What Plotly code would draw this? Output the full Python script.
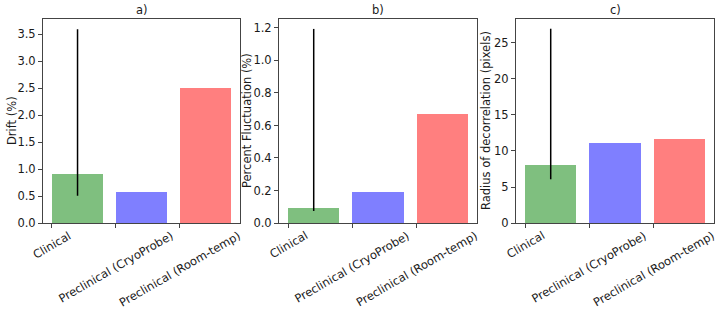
import plotly.graph_objects as go

categories = ["Clinical", "Preclinical (CryoProbe)", "Preclinical (Room-temp)"]
positions = [0, 1, 2]
drift = [0.905, 0.568, 2.5]
fluct = [0.09, 0.193, 0.672]
radius = [8.05, 11.08, 11.6]
# error bar for Clinical (lower, upper ends)
drift_err_lo, drift_err_hi = [0.505], [3.59]
fluct_err_lo, fluct_err_hi = [0.074], [1.194]
radius_err_lo, radius_err_hi = [6.07], [26.98]
titles = ["a)", "b)", "c)"]
ylabels = ["Drift (%)", "Percent Fluctuation (%)", "Radius of decorrelation (pixels)"]
colors = ["rgba(0,128,0,0.5)", "rgba(0,0,255,0.5)", "rgba(255,0,0,0.5)"]

W, H = 719, 311
xdoms = [(43, 240), (279, 477), (516, 714)]
ylabel_x = [12, 247, 486]
ytop, ybot = 19, 223
BW = 0.8
FS = 11.5

# approximate DejaVu Sans advance widths (em) to centre rotated labels
CW = {"C": .698, "l": .278, "i": .278, "n": .634, "c": .550, "a": .613, " ": .318,
      "P": .603, "r": .411, "e": .615, "(": .390, ")": .390, "y": .592, "o": .612,
      "b": .635, "R": .695, "m": .974, "-": .361, "t": .392, "p": .635}


def text_len(s):
    return sum(CW.get(ch, 0.6) for ch in s) * FS


data = [(drift, drift_err_lo, drift_err_hi),
        (fluct, fluct_err_lo, fluct_err_hi),
        (radius, radius_err_lo, radius_err_hi)]
yranges = [[0, 3.78], [0, 1.255], [0, 28.33]]
dticks = [0.5, 0.2, 5]
tickfmt = [".1f", ".1f", "d"]

fig = go.Figure()
font = "DejaVu Sans"
tc = "#1a1a1a"
lc = "#444"
for i, (vals, lo, hi) in enumerate(data):
    xa = "x" if i == 0 else f"x{i+1}"
    ya = "y" if i == 0 else f"y{i+1}"
    centers = [p + BW / 2 for p in positions]
    fig.add_trace(go.Bar(x=centers, y=vals, marker=dict(color=colors, line=dict(width=0)),
                         width=BW, xaxis=xa, yaxis=ya, showlegend=False))
    fig.add_trace(go.Scatter(x=[centers[0]], y=[vals[0]], mode="markers",
                             marker=dict(size=0.1, color="rgba(0,0,0,0)"),
                             error_y=dict(type="data", symmetric=False,
                                          array=[hi[0] - vals[0]], arrayminus=[vals[0] - lo[0]],
                                          color="black", thickness=1.5, width=0),
                             xaxis=xa, yaxis=ya, showlegend=False))
    xkey = "xaxis" if i == 0 else f"xaxis{i+1}"
    ykey = "yaxis" if i == 0 else f"yaxis{i+1}"
    d = xdoms[i]
    fig.layout[xkey] = dict(domain=[d[0] / W, d[1] / W], range=[-0.14, 2.94],
                            tickvals=positions, showticklabels=False,
                            ticks="outside", ticklen=4, tickcolor=lc, showgrid=False,
                            showline=True, linecolor=lc, linewidth=1, mirror=True,
                            zeroline=False, anchor=ya, automargin=False)
    fig.layout[ykey] = dict(domain=[1 - ybot / H, 1 - ytop / H], range=yranges[i],
                            dtick=dticks[i], tick0=0, tickformat=tickfmt[i],
                            ticks="outside", ticklen=4, tickcolor=lc, showgrid=False,
                            showline=True, linecolor=lc, linewidth=1, mirror=True,
                            zeroline=False, anchor=xa, automargin=False,
                            tickfont=dict(family=font, size=FS, color=tc))
    fig.add_annotation(text=titles[i], x=(d[0] + d[1]) / 2 / W, y=1 - 10 / H,
                       xref="paper", yref="paper", showarrow=False,
                       font=dict(family=font, size=FS, color=tc),
                       xanchor="center", yanchor="middle")
    fig.add_annotation(text=ylabels[i], x=ylabel_x[i] / W, y=1 - (ytop + ybot) / 2 / H,
                       xref="paper", yref="paper", showarrow=False, textangle=-90,
                       font=dict(family=font, size=FS, color=tc),
                       xanchor="center", yanchor="middle")
    for p, cat in zip(positions, categories):
        L = text_len(cat)
        cy = 230 + (0.5 * L + 0.866 * 10) / 2
        fig.add_annotation(text=cat, x=p, y=1 - cy / H, xref=xa, yref="paper",
                           showarrow=False, textangle=-30,
                           font=dict(family=font, size=FS, color=tc),
                           xanchor="center", yanchor="middle")

fig.update_layout(width=W, height=H, margin=dict(l=0, r=0, t=0, b=0),
                  plot_bgcolor="white", paper_bgcolor="white", bargap=0)
fig.write_html("out.html", config={"displayModeBar": False},
               post_script="document.body.style.margin='0px';")
